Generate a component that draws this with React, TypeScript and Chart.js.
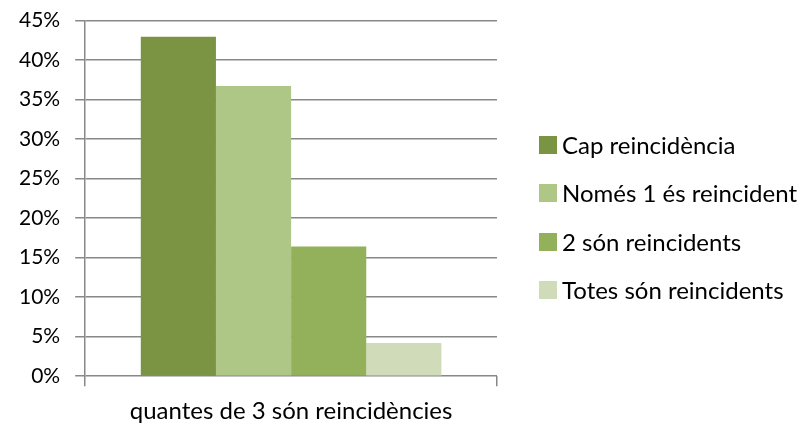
import React, { useEffect, useRef } from "react";
import { Chart, registerables } from "chart.js";

Chart.register(...registerables);

const categories = ["quantes de 3 són reincidències"];
const seriesNames = ["Cap reincidència", "Només 1 és reincident", "2 són reincidents", "Totes són reincidents"];
const seriesValues = [[42.9], [36.7], [16.4], [4.2]];
const seriesColors = ["#7B9443", "#AEC686", "#93B15A", "#D0DCB9"];
const yTicks = [0, 5, 10, 15, 20, 25, 30, 35, 40, 45];

export default function App() {
  const ref = useRef<HTMLCanvasElement | null>(null);
  useEffect(() => {
    document.body.style.margin = "0";
    const tickFont = { family: "Lato", size: 21, lineHeight: 0.5 };
    const labelFont = { family: "Lato", size: 24 };
    const chart = new Chart(ref.current!, {
      type: "bar",
      data: {
        labels: categories,
        datasets: seriesNames.map((n, i) => ({
          label: n,
          data: seriesValues[i],
          backgroundColor: seriesColors[i],
          borderWidth: 0,
          categoryPercentage: 0.73,
          barPercentage: 1,
        })),
      },
      options: {
        animation: false,
        responsive: false,
        layout: { padding: { top: 14, left: 4, right: 307, bottom: -12 } },
        plugins: {
          tooltip: { enabled: false },
          legend: { display: false },
        },
        scales: {
          x: {
            grid: { drawOnChartArea: false, drawTicks: true, tickLength: 10, color: "#888888", lineWidth: 1.5 },
            border: { display: false },
            ticks: { font: labelFont, color: "#000", padding: 11 },
          },
          y: {
            min: 0,
            max: 45,
            afterBuildTicks: (s: any) => {
              s.ticks = yTicks.map((v) => ({ value: v }));
            },
            grid: { color: "#888888", lineWidth: 1.5, tickLength: 10 },
            border: { display: true, color: "#888888", width: 1.5 },
            ticks: { font: tickFont, color: "#000", padding: 15, callback: (v: any) => v + "%" },
          },
        },
      },
    });
    return () => chart.destroy();
  }, []);
  return (
    <div style={{ position: "absolute", left: 0, top: 0, width: 804, height: 425, background: "#fff" }}>
      <canvas ref={ref} width={804} height={425} style={{ display: "block" }} />
      <div style={{ position: "absolute", left: 539, top: 136, fontFamily: "Lato", fontSize: 24, color: "#000" }}>
        {seriesNames.map((n, i) => (
          <div key={n} style={{ display: "flex", alignItems: "center", height: 18, marginBottom: 30.3, whiteSpace: "nowrap" }}>
            <span style={{ display: "inline-block", width: 18, height: 18, background: seriesColors[i], marginRight: 5 }} />
            <span style={{ lineHeight: "18px" }}>{n}</span>
          </div>
        ))}
      </div>
    </div>
  );
}
